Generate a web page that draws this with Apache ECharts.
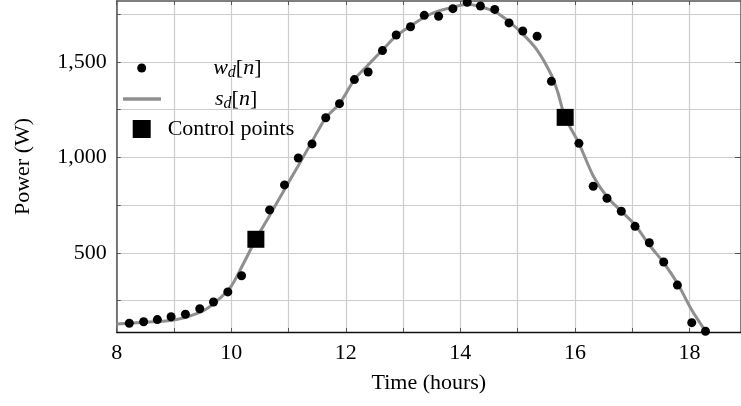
<!DOCTYPE html>
<html>
<head>
<meta charset="utf-8">
<script src="https://cdn.jsdelivr.net/npm/echarts@6/dist/echarts.min.js"></script>
<style>
  html, body { margin: 0; padding: 0; background: #fff; }
  #chart { width: 741px; height: 406px; }
</style>
</head>
<body>
<div id="chart"></div>
<script>
// Measured power samples w_d[n] (hours, watts)
const dotTimes = [8.22, 8.47, 8.71, 8.95, 9.20, 9.45, 9.69, 9.94, 10.18, 10.43,
  10.67, 10.93, 11.17, 11.41, 11.65, 11.89, 12.15, 12.39, 12.64, 12.88,
  13.13, 13.37, 13.62, 13.87, 14.12, 14.35, 14.60, 14.85, 15.09, 15.34,
  15.59, 15.83, 16.07, 16.32, 16.56, 16.81, 17.05, 17.30, 17.55, 17.79,
  18.04, 18.28];
const dotPower = [131, 139, 150, 165, 178, 207, 242, 295, 380, 571,
  725, 856, 997, 1071, 1208, 1282, 1408, 1448, 1560, 1642,
  1685, 1745, 1740, 1780, 1813, 1794, 1776, 1705, 1663, 1635,
  1399, 1210, 1074, 849, 786, 718, 639, 553, 452, 331,
  134, 89];

// Fitted curve s_d[n]
const splineTimes = [8.0, 8.5, 9.0, 9.5, 9.75, 10.0, 10.2, 10.43, 10.67, 10.93,
  11.17, 11.41, 11.65, 11.89, 12.15, 12.39, 12.64, 12.88, 13.13, 13.37,
  13.62, 13.87, 14.12, 14.35, 14.6, 14.85, 15.09, 15.34, 15.59, 15.7,
  15.83, 16.07, 16.32, 16.56, 16.81, 17.05, 17.3, 17.55, 17.79, 18.04, 18.28];
const splinePower = [127, 136, 148, 195, 248, 326, 436, 571, 696, 832,
  957, 1083, 1208, 1282, 1408, 1485, 1563, 1637, 1689, 1735,
  1768, 1787, 1803, 1790, 1764, 1712, 1647, 1563, 1432, 1343,
  1210, 1074, 903, 794, 718, 646, 541, 448, 340, 200, 90];

// Spline control points
const controlTimes = [10.43, 15.83];
const controlPower = [571, 1210];

// Axis ticks and labels
const xTickValues = [8, 9, 10, 11, 12, 13, 14, 15, 16, 17, 18];
const xLabelValues = [8, 10, 12, 14, 16, 18];
const yTickValues = [250, 500, 750, 1000, 1250, 1500, 1750];
const yLabelValues = [500, 1000, 1500];
const yRightTickValues = [500, 1000, 1500];

const FONT = "'Liberation Serif', 'DejaVu Serif', serif";
const pairs = (xs, ys) => xs.map((x, i) => [x, ys[i]]);

const chart = echarts.init(document.getElementById('chart'));

const mathRich = {
  it: { fontFamily: FONT, fontStyle: 'italic', fontSize: 22, color: '#000' },
  sub: { fontFamily: FONT, fontStyle: 'italic', fontSize: 16, color: '#000', padding: [9, 0, 0, 0] },
  rm: { fontFamily: FONT, fontSize: 22, color: '#000' }
};

function legendBlock(name, icon, left, top, w, h, spacer, formatter) {
  return {
    data: [{ name: name, icon: icon }],
    left: left, top: top, padding: 0,
    itemWidth: w, itemHeight: h,
    selectedMode: false,
    formatter: formatter,
    textStyle: {
      fontFamily: FONT, fontSize: 22, color: '#000', lineHeight: 24,
      rich: Object.assign({ sp: { width: spacer } }, mathRich)
    }
  };
}

chart.setOption({
  animation: false,
  grid: { left: 116.7, top: 1, width: 628, height: 331, containLabel: false },
  legend: [
    legendBlock('w_d[n]', 'circle', 137.2, 56, 9, 9, 62,
      () => '{sp|}{it|w}{sub|d}{rm|[}{it|n}{rm|]}'),
    legendBlock('s_d[n]', 'rect', 123, 87, 38, 3.5, 49,
      () => '{sp|}{it|s}{sub|d}{rm|[}{it|n}{rm|]}'),
    legendBlock('Control points', 'rect', 132.7, 117, 18, 18, 12,
      () => '{sp|}{rm|Control points}')
  ],
  xAxis: [{
    type: 'value', position: 'bottom', min: 8, max: 18.9,
    name: 'Time (hours)', nameLocation: 'middle', nameGap: 40,
    nameTextStyle: { fontFamily: FONT, fontSize: 22, color: '#000' },
    axisLine: { lineStyle: { color: '#111', width: 1.3 } },
    axisTick: { inside: true, length: 4, customValues: xTickValues, lineStyle: { color: '#555' } },
    axisLabel: { customValues: xLabelValues, margin: 10, fontFamily: FONT, fontSize: 22, color: '#000' },
    splitLine: { show: true, lineStyle: { color: '#cccccc', width: 1.2 } }
  }, {
    type: 'value', position: 'top', min: 8, max: 18.9,
    axisLine: { show: true, lineStyle: { color: '#555', width: 1.5 } },
    axisTick: { inside: true, length: 4, customValues: xTickValues, lineStyle: { color: '#555' } },
    axisLabel: { show: false },
    splitLine: { show: false }
  }],
  yAxis: [{
    type: 'value', position: 'left', min: 85, max: 1820,
    name: 'Power (W)', nameLocation: 'middle', nameGap: 82, nameRotate: 90,
    nameTextStyle: { fontFamily: FONT, fontSize: 22, color: '#000' },
    axisLine: { show: true, lineStyle: { color: '#555', width: 1.5 } },
    axisTick: { show: true, inside: true, length: 4, customValues: yTickValues, lineStyle: { color: '#555' } },
    axisLabel: {
      customValues: yLabelValues, margin: 10, fontFamily: FONT, fontSize: 22, color: '#000',
      formatter: v => v.toLocaleString('en-US')
    },
    splitLine: { show: true, lineStyle: { color: '#cccccc', width: 1.2 } }
  }, {
    type: 'value', position: 'right', min: 85, max: 1820,
    axisLine: { show: true, lineStyle: { color: '#555', width: 1.5 } },
    axisTick: { show: true, inside: true, length: 6, customValues: yRightTickValues, lineStyle: { color: '#555' } },
    axisLabel: { show: false },
    splitLine: { show: false }
  }],
  series: [{
    name: 's_d[n]', type: 'line',
    data: pairs(splineTimes, splinePower),
    showSymbol: false, smooth: 0.3,
    lineStyle: { color: '#8f8f8f', width: 3 },
    itemStyle: { color: '#8f8f8f' },
    z: 2, silent: true
  }, {
    name: 'w_d[n]', type: 'scatter',
    data: pairs(dotTimes, dotPower),
    symbol: 'circle', symbolSize: 9,
    itemStyle: { color: '#000', opacity: 1 },
    z: 3
  }, {
    name: 'Control points', type: 'scatter',
    data: pairs(controlTimes, controlPower),
    symbol: 'rect', symbolSize: 17,
    itemStyle: { color: '#000', opacity: 1 },
    z: 4
  }]
});
</script>
</body>
</html>
